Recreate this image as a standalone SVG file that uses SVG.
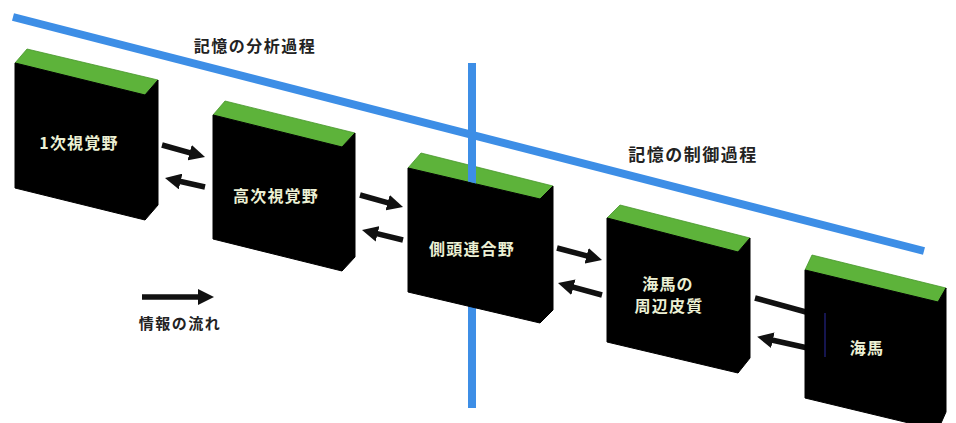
<svg xmlns="http://www.w3.org/2000/svg" width="956" height="423" viewBox="0 0 956 423">
<defs>
<marker id="ah" markerUnits="userSpaceOnUse" markerWidth="16" markerHeight="16" viewBox="0 0 16 16" refX="8" refY="8" orient="auto">
<path d="M0,0 L16,8 L0,16 z" fill="#111"/>
</marker>
<style>
.blue{stroke:#3d8ee6;stroke-width:8;fill:none;stroke-linecap:butt}
.front{fill:#000;stroke:#000;stroke-width:1;stroke-linejoin:round}
.side{fill:#000;stroke:#000;stroke-width:1;stroke-linejoin:round}
.top{fill:#5db33a;stroke:#46962b;stroke-width:0.8}
.lbl{font-family:"Noto Sans CJK JP","Noto Sans",sans-serif;font-weight:bold;fill:#ecf0d4;font-size:16px;text-anchor:middle;dominant-baseline:central;letter-spacing:1.2px}
.head{font-family:"Noto Sans CJK JP","Noto Sans",sans-serif;font-weight:bold;fill:#222;text-anchor:middle;dominant-baseline:central;letter-spacing:1.5px}
.arr{stroke:#111;stroke-width:5.5;fill:none;marker-end:url(#ah)}
</style>
</defs>
<rect width="956" height="423" fill="#fff"/>
<g id="planes">
<line class="blue" x1="13" y1="17" x2="924" y2="251"/>
<line class="blue" x1="472" y1="63" x2="472" y2="408"/>
</g>
<text class="head" x="255" y="45" font-size="16">記憶の分析過程</text>
<text class="head" x="693" y="153" font-size="17">記憶の制御過程</text>
<g id="connectors">
<line class="arr" x1="162" y1="145" x2="197.3" y2="154.8"/>
<line class="arr" x1="205" y1="187" x2="172.8" y2="179.8"/>
<line class="arr" x1="360" y1="195" x2="395.3" y2="204.8"/>
<line class="arr" x1="403" y1="240" x2="369.8" y2="231.9"/>
<line class="arr" x1="557" y1="248" x2="594.3" y2="257.9"/>
<line class="arr" x1="602" y1="295" x2="565.7" y2="285.1"/>
<line class="arr" x1="755" y1="298" x2="815" y2="314.5"/>
<line class="arr" x1="810" y1="348.5" x2="765" y2="338.5"/>
</g>
<g id="n1">
<polygon class="top" points="27,49 158,80 145,95 15,63"/>
<polygon class="side" points="145,95 158,80 158,205 145,220"/>
<polygon class="front" points="15,63 145,95 145,220 15,188"/>
<text class="lbl" x="79" y="142">1次視覚野</text>
</g>
<g id="n2">
<polygon class="top" points="225,101 355,133 342,147 213,115"/>
<polygon class="side" points="342,147 355,133 355,257 342,271"/>
<polygon class="front" points="213,115 342,147 342,271 213,239"/>
<text class="lbl" x="276" y="195">高次視覚野</text>
</g>
<g id="n3">
<polygon class="top" points="421,153 553,186 540,199 408,168"/>
<polygon class="side" points="540,199 553,186 553,310 540,323"/>
<polygon class="front" points="408,168 540,199 540,323 408,292"/>
<text class="lbl" x="472" y="248">側頭連合野</text>
</g>
<polygon fill="#3d8ee6" points="468,160 476,160 476,183.5 468,181.6"/>
<g id="n4">
<polygon class="top" points="620,205 750,238 738,252 607,218"/>
<polygon class="side" points="738,252 750,238 750,358 738,373"/>
<polygon class="front" points="607,218 738,252 738,373 607,342"/>
<text class="lbl" x="668" y="283">海馬の</text>
<text class="lbl" x="669" y="305">周辺皮質</text>
</g>
<g id="n5">
<polygon class="top" points="812,255 946,288 938,302 805,270"/>
<polygon class="side" points="938,302 946,288 946,412 938,430"/>
<polygon class="front" points="805,270 938,302 938,430 805,398"/>
<line x1="825" y1="313" x2="825" y2="357" stroke="#1c1c6a" stroke-width="1.5"/>
<text class="lbl" x="867" y="347">海馬</text>
</g>
<g id="legend">
<line class="arr" x1="142" y1="297" x2="206" y2="297"/>
<text class="head" x="180" y="322" font-size="15">情報の流れ</text>
</g>
</svg>
